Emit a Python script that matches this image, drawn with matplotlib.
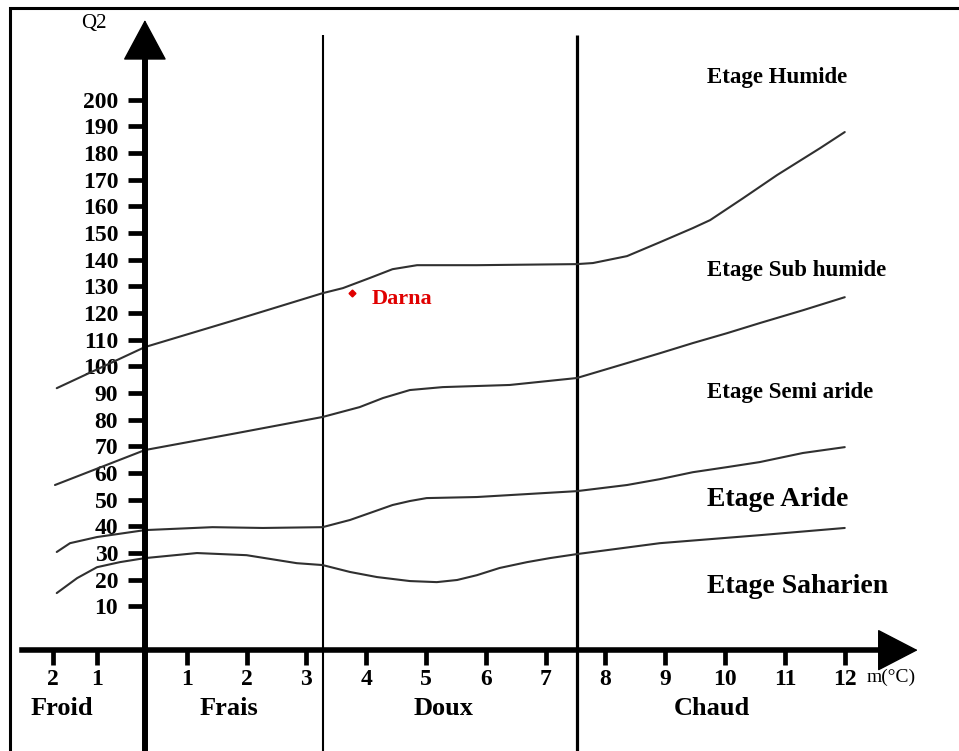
import numpy as np
import matplotlib
matplotlib.use("Agg")
import matplotlib.pyplot as plt
from matplotlib.patches import Rectangle

plt.rcParams["font.family"] = ["Liberation Serif", "DejaVu Serif"]

# ── Emberger climagram: Q2 against m (°C) ────────────────────────────────────
q2_ticks = list(range(10, 201, 10))
m_ticks = [-2, -1, 1, 2, 3, 4, 5, 6, 7, 8, 9, 10, 11, 12]
m_labels = [str(abs(v)) for v in m_ticks]

# winter variant limits (Frais / Doux, Doux / Chaud)
winter_limits = [3.27, 7.52]
winter_names = ["Froid", "Frais", "Doux", "Chaud"]
winter_pos = [-1.80, 1.70, 5.30, 9.78]

# limits between the bioclimatic stages
humide_m = [-1.91, 0.0, 1.80, 3.27, 3.61, 4.06, 4.44, 4.85, 5.85, 7.52, 7.79,
            8.36, 8.91, 9.46, 9.75, 10.30, 10.87, 11.59, 12.0]
humide_q = [91.8, 107.2, 117.3, 127.4, 129.3, 133.1, 136.4, 137.9, 137.9,
            138.3, 138.7, 141.3, 146.5, 151.8, 154.8, 163.0, 171.7, 181.8,
            187.8]

subhum_m = [-1.95, 0.0, 1.80, 3.27, 3.89, 4.28, 4.73, 5.28, 6.40, 7.52, 8.36,
            8.91, 9.46, 10.03, 10.58, 11.30, 12.0]
subhum_q = [55.5, 68.6, 74.8, 81.0, 84.7, 88.1, 91.1, 92.2, 93.0, 95.6, 101.2,
            104.9, 108.7, 112.4, 116.2, 121.0, 125.9]

semiar_m = [-1.91, -1.61, -1.0, 0.0, 1.43, 2.27, 3.27, 3.73, 4.06, 4.44, 4.73,
            5.01, 5.85, 7.52, 8.36, 8.91, 9.46, 10.03, 10.58, 11.30, 12.0]
semiar_q = [30.4, 33.7, 36.0, 38.6, 39.7, 39.4, 39.7, 42.4, 45.0, 48.0, 49.5,
            50.6, 51.0, 53.2, 55.5, 57.7, 60.3, 62.2, 64.1, 67.5, 69.7]

aride_m = [-1.91, -1.45, -1.0, -0.52, 0.0, 1.17, 2.00, 2.84, 3.27, 3.73, 4.18,
           4.73, 5.18, 5.52, 5.85, 6.23, 6.69, 7.07, 7.52, 8.91, 10.58, 12.0]
aride_q = [15.0, 20.6, 24.7, 26.6, 28.1, 30.0, 29.2, 26.2, 25.5, 22.9, 21.0,
           19.5, 19.1, 19.9, 21.7, 24.4, 26.6, 28.1, 29.6, 33.7, 36.7, 39.4]

stage_names = ["Etage Humide", "Etage Sub humide", "Etage Semi aride",
               "Etage Aride", "Etage Saharien"]
stage_q = [206.1, 133.8, 88.1, 47.6, 15.0]
stage_size = [16.5, 16.5, 16.5, 20, 20]

station_m = 3.76
station_q = 127.4

# the negative side and the first degree are drawn narrower than the rest
M_KNOTS = [-4.0, -2.0, -1.0, 0.0, 1.0, 12.0, 16.0]
U_KNOTS = [-3.01, -1.54, -0.80, 0.0, 0.70, 11.70, 15.70]


def forward(m):
    return np.interp(m, M_KNOTS, U_KNOTS)


def inverse(u):
    return np.interp(u, U_KNOTS, M_KNOTS)


fig = plt.figure(figsize=(9.59, 7.51), dpi=100)
ax = fig.add_axes([0, 0, 1, 1])
ax.set_xscale("function", functions=(forward, inverse))
ax.set_xlim(-3.20, 13.91)
ax.set_ylim(-44.2, 237.3)
ax.patch.set_visible(False)

x_axis_q = -6.4

# axes as thick arrows
ax.spines[["top", "right"]].set_visible(False)
ax.spines["left"].set_position(("data", 0))
ax.spines["left"].set_linewidth(4.3)
ax.spines["left"].set_bounds(-44.2, 214)
ax.spines["bottom"].set_position(("data", x_axis_q))
ax.spines["bottom"].set_linewidth(4.0)
ax.spines["bottom"].set_bounds(-2.71, 12.6)

ax.set_yticks(q2_ticks, labels=[str(v) for v in q2_ticks], fontweight="bold")
ax.set_xticks(m_ticks, labels=m_labels, fontweight="bold")
ax.minorticks_off()
ax.tick_params(axis="y", direction="out", length=12.2, width=3.4, pad=7,
               labelsize=17)
ax.tick_params(axis="x", direction="out", length=10.8, width=3.4, pad=3,
               labelsize=17)

ax.annotate("", xy=(0, 229.8), xytext=(0, 212),
            arrowprops=dict(arrowstyle="-|>,head_length=2.7,head_width=1.45",
                            mutation_scale=10, color="black", lw=1,
                            shrinkA=0, shrinkB=0))
ax.annotate("", xy=(13.22, x_axis_q), xytext=(12.5, x_axis_q),
            arrowprops=dict(arrowstyle="-|>,head_length=2.7,head_width=1.4",
                            mutation_scale=10, color="black", lw=1,
                            shrinkA=0, shrinkB=0))

ax.text(-1.06, 228.6, "Q2", fontsize=15, ha="center", va="center")
ax.text(12.37, -16.5, "m(°C)", fontsize=14, ha="left", va="center")

# winter variant boundaries
ax.vlines(winter_limits[0], -44.2, 224, color="black", lw=1.5)
ax.vlines(winter_limits[1], -44.2, 224, color="black", lw=2.3)
for name, m in zip(winter_names, winter_pos):
    ax.text(m, -30.7, name, fontsize=19, fontweight="bold",
            ha="center", va="baseline")

# stage limits
for xs, ys in [(humide_m, humide_q), (subhum_m, subhum_q),
               (semiar_m, semiar_q), (aride_m, aride_q)]:
    ax.plot(xs, ys, color="#303030", lw=1.5, solid_capstyle="round",
            solid_joinstyle="round")

for name, q, size in zip(stage_names, stage_q, stage_size):
    ax.text(9.70, q, name, fontsize=size, fontweight="bold",
            ha="left", va="baseline")

# station
ax.plot(station_m, station_q, marker="D", ms=3.5, color="#e00000", ls="none")
ax.annotate("Darna", xy=(station_m, station_q), xytext=(14, -4),
            textcoords="offset points", color="#e00000", fontsize=16,
            fontweight="bold", va="center")

# outer frame
fig.add_artist(Rectangle((10 / 959, -0.1), 1.2, 1.1 - 8 / 751,
                         transform=fig.transFigure, fill=False,
                         ec="black", lw=2.2))

fig.savefig("out.png", dpi=100)
